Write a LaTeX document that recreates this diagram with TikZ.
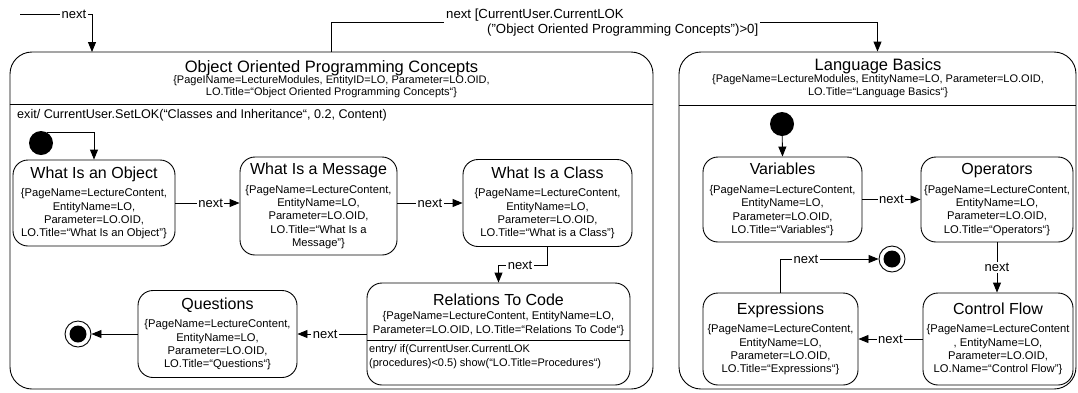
\documentclass[tikz,border=0pt]{standalone}
\usepackage{fontspec}
\setmainfont{Liberation Sans}
\usetikzlibrary{arrows.meta,calc}
\newcommand\fTitle{\fontsize{16.5}{18}\selectfont}
\newcommand\fHead{\fontsize{16}{18}\selectfont}
\newcommand\fSub{\fontsize{11}{12.5}\selectfont}
\newcommand\fIn{\fontsize{11.2}{13.4}\selectfont}
\newcommand\fLab{\fontsize{13.2}{15}\selectfont}
\newcommand\fNext{\fontsize{13}{15}\selectfont}
\newcommand\fExit{\fontsize{12.6}{15}\selectfont}
\newcommand\fEntry{\fontsize{11}{13.5}\selectfont}
\tikzset{
 outerst/.style={draw, line width=0.9pt, rounded corners=22pt, inner sep=0pt},
 innerst/.style={draw, line width=0.9pt, rounded corners=15pt, align=center, inner sep=0pt, font=\fIn},
 tr/.style={line width=0.9pt, -{Triangle[length=10pt,width=8pt]}},
 ln/.style={line width=0.9pt},
 lbl/.style={fill=white, inner sep=1.5pt, font=\fNext},
 inidot/.style={circle, fill=black, minimum size=24pt, inner sep=0pt},
 finout/.style={circle, draw, line width=0.9pt, minimum size=26pt, inner sep=0pt},
 findot/.style={circle, fill=black, minimum size=17pt, inner sep=0pt},
}
\begin{document}
\begin{tikzpicture}[x=1pt,y=-1pt]
\useasboundingbox (0,0) rectangle (1078,392);
% outer composite states
\node[outerst, minimum width=643pt, minimum height=337pt] (lb) at (331.5,220.5) {};
\node[outerst, minimum width=397pt, minimum height=337pt] (rb) at (877.5,220.5) {};
\coordinate (lsy) at (0,104);
\coordinate (rsy) at (0,105);
\draw[ln] (lb.west |- lsy) -- (lb.east |- lsy);
\draw[ln] (rb.west |- rsy) -- (rb.east |- rsy);
\node[font=\fTitle] (lbt) at (331.5,68) {Object Oriented Programming Concepts};
\node[font=\fSub] (lbs1) at (331.5,81) {\{PageIName=LectureModules, EntityID=LO, Parameter=LO.OID,};
\node[font=\fSub] (lbs2) at (331.5,93) {LO.Title=“Object Oriented Programming Concepts“\}};
\node[font=\fExit, anchor=west, inner sep=0pt] (exit) at (17,115) {exit/ CurrentUser.SetLOK(“Classes and Inheritance“, 0.2, Content)};
\node[font=\fTitle] (rbt) at (878,66) {Language Basics};
\node[font=\fSub] (rbs1) at (878,80) {\{PageName=LectureModules, EntityName=LO, Parameter=LO.OID,};
\node[font=\fSub] (rbs2) at (878,93) {LO.Title=“Language Basics“\}};
% entry transitions
\coordinate (s0) at (20,14);
\coordinate (lbin) at (92,52);
\draw[tr] (s0) -| node[lbl, pos=0.375] {next} (lbin);
\draw[tr] (lb.north) -- ++(0,-29) -| (rb.north);
\node[fill=white, font=\fLab, align=left, anchor=west, inner sep=2pt] (tlab) at (444,22.5) {next [CurrentUser.CurrentLOK\\\hspace*{41pt}("Object Oriented Programming Concepts")>0]};
% left inner states
\node[inidot] (i1) at (41,143) {};
\node[innerst, minimum width=162pt, minimum height=86pt] (obj) at (94,203) {{\fHead What Is an Object}\\[5pt]\{PageName=LectureContent,\\EntityName=LO,\\Parameter=LO.OID,\\LO.Title=“What Is an Object”\}};
\node[innerst, minimum width=157pt, minimum height=98pt] (msg) at (318.5,206) {{\fHead What Is a Message}\\[5pt]\{PageName=LectureContent,\\EntityName=LO,\\Parameter=LO.OID,\\LO.Title=“What Is a\\Message”\}};
\node[innerst, minimum width=169pt, minimum height=87pt] (cls) at (547.5,203) {{\fHead What Is a Class}\\[5pt]\{PageName=LectureContent,\\EntityName=LO,\\Parameter=LO.OID,\\LO.Title=“What is a Class”\}};
\node[draw, ln, rounded corners=15pt, minimum width=263pt, minimum height=102pt] (rel) at (498.5,334) {};
\node[font=\fHead] (relt) at (498.5,300) {Relations To Code};
\node[font=\fIn, align=center] (rels) at (498.5,323.5) {\{PageName=LectureContent, EntityName=LO,\\Parameter=LO.OID, LO.Title=“Relations To Code“\}};
\coordinate (rlsy) at (0,340);
\draw[ln] (rel.west |- rlsy) -- (rel.east |- rlsy);
\node[font=\fEntry, align=left, anchor=west, inner sep=1pt] (rele) at (368,356.5) {entry/ if(CurrentUser.CurrentLOK\\(procedures)<0.5) show(“LO.Title=Procedures“)};
\node[innerst, minimum width=159pt, minimum height=87pt] (qst) at (217.5,334) {{\fHead Questions}\\[5pt]\{PageName=LectureContent,\\EntityName=LO,\\Parameter=LO.OID,\\LO.Title=“Questions“\}};
\node[finout] (f1) at (78,334) {};
\node[findot] (f1d) at (78,334) {};
\draw[tr] (i1.60) -| (obj.north);
\draw[tr] (obj.east) -- node[lbl, pos=0.55] {next} (obj.east -| msg.west);
\draw[tr] (msg.east |- cls.west) -- node[lbl, pos=0.5] {next} (cls.west);
\draw[tr] (cls.south) -- ++(0,18.5) -| node[lbl, pos=0.28] {next} (rel.north);
\draw[tr] (rel.west) -- node[lbl, pos=0.6] {next} (rel.west -| qst.east);
\draw[tr] (qst.west) -- (f1);
% right inner states
\node[inidot] (i2) at (782,124) {};
\node[innerst, minimum width=159pt, minimum height=85pt] (var) at (782.5,199.5) {{\fHead Variables}\\[5pt]\{PageName=LectureContent,\\EntityName=LO,\\Parameter=LO.OID,\\LO.Title=“Variables“\}};
\node[innerst, minimum width=152pt, minimum height=85pt] (ops) at (997,199.5) {{\fHead Operators}\\[5pt]\{PageName=LectureContent,\\EntityName=LO,\\Parameter=LO.OID,\\LO.Title=“Operators“\}};
\node[innerst, minimum width=150pt, minimum height=92pt] (ctl) at (998,339) {{\fHead Control Flow}\\[5pt]\{PageName=LectureContent\\, EntityName=LO,\\Parameter=LO.OID,\\LO.Name=“Control Flow”\}};
\node[innerst, minimum width=155pt, minimum height=92pt] (exq) at (780.5,339) {{\fHead Expressions}\\[5pt]\{PageName=LectureContent,\\EntityName=LO,\\Parameter=LO.OID,\\LO.Title=“Expressions“\}};
\node[finout] (f2) at (892,259) {};
\node[findot] (f2d) at (892,259) {};
\draw[tr] (i2) -- (var.north);
\draw[tr] (var.east) -- node[lbl] {next} (ops.west);
\draw[tr] (ops.south) -- node[lbl] {next} (ops.south |- ctl.north);
\draw[tr] (ctl.west) -- node[lbl] {next} (ctl.west -| exq.east);
\draw[tr] (exq.north) |- node[lbl, pos=0.63] {next} (f2.west);
\end{tikzpicture}
\end{document}
